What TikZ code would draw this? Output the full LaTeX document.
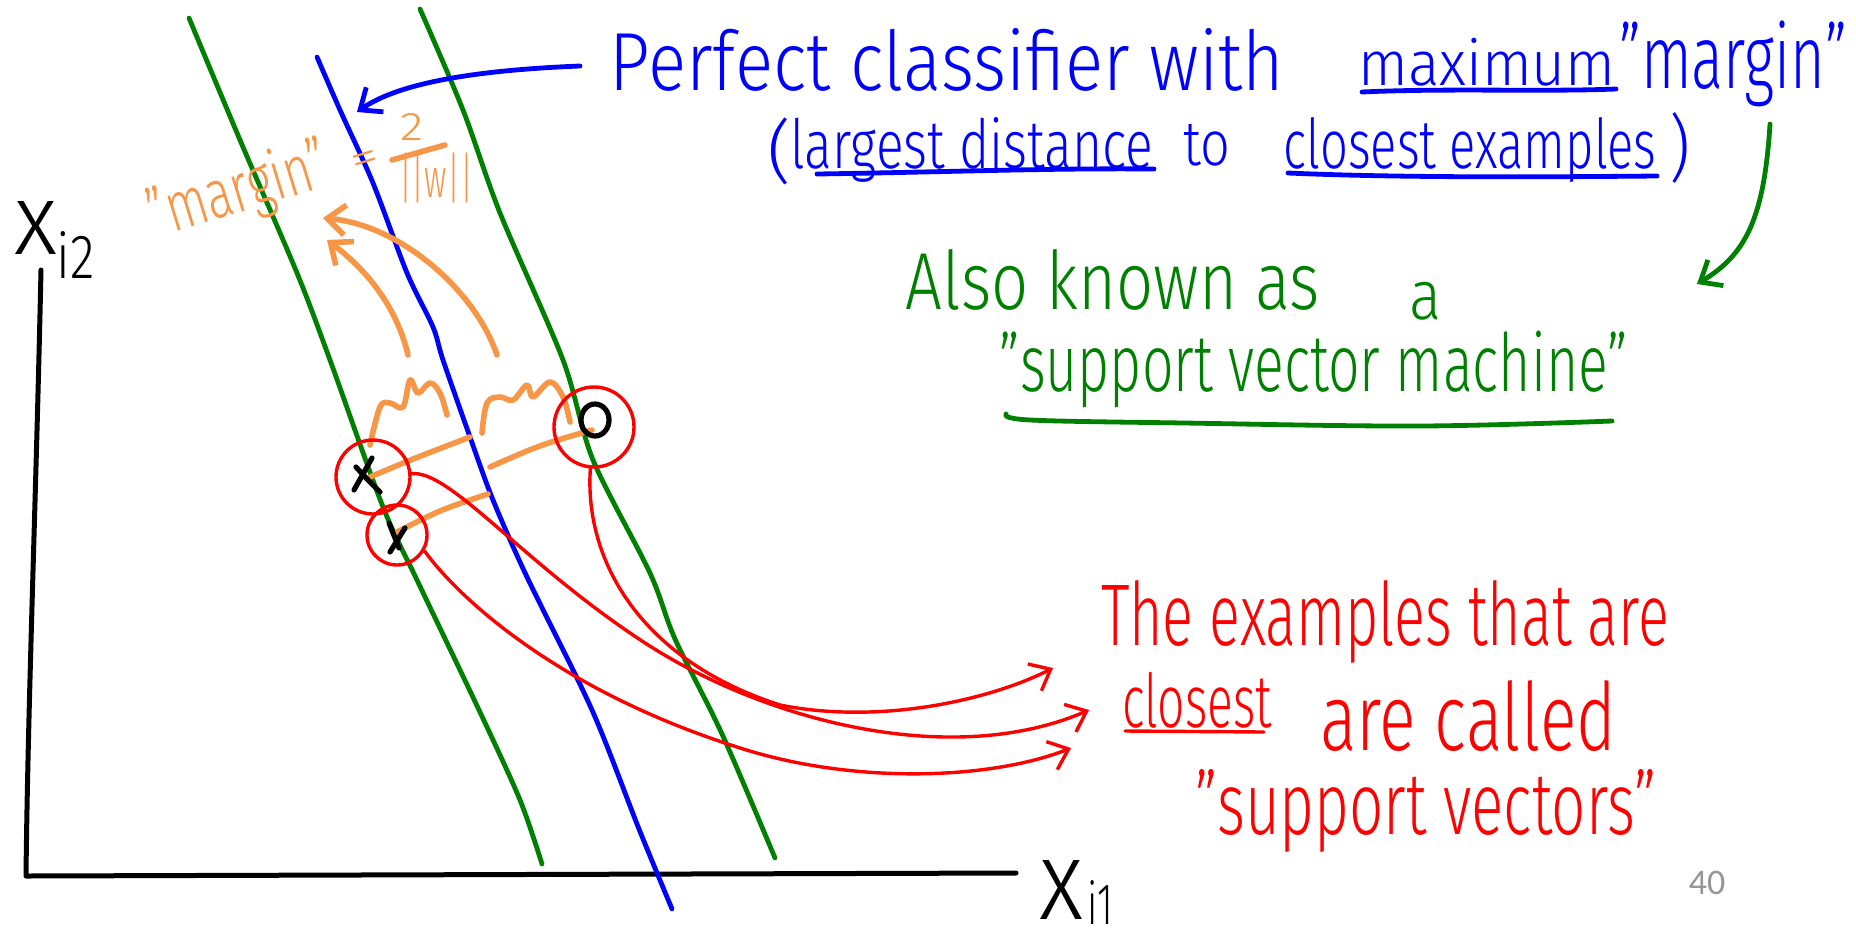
\documentclass[tikz,border=0pt]{standalone}
\usepackage{fontspec}
\setmainfont{Fira Sans Light}
\newfontfamily\pagefont{Carlito}
\usetikzlibrary{arrows.meta}
\definecolor{svmblue}{RGB}{0,0,255}
\definecolor{svmgreen}{RGB}{0,128,0}
\definecolor{svmred}{RGB}{255,0,0}
\definecolor{svmorange}{RGB}{247,150,70}
\definecolor{pagegray}{RGB}{150,150,150}
\newcommand{\hwbox}[3]{\resizebox*{#1}{#2}{#3}}
\begin{document}
\begin{tikzpicture}[x=0.5pt,y=-0.5pt,
  ink/.style={line cap=round,line join=round},
  axisline/.style={ink,draw=black,line width=2.5pt},
  gline/.style={ink,draw=svmgreen,line width=2.4pt},
  bline/.style={ink,draw=svmblue,line width=2.4pt},
  rline/.style={ink,draw=svmred,line width=1.7pt},
  oline/.style={ink,draw=svmorange,line width=2.8pt},
  kline/.style={ink,draw=black,line width=2.6pt},
  barb/.style={-{Straight Barb[length=9pt,width=15pt]}},
  txt/.style={inner sep=0pt,outer sep=0pt,anchor=center},
  btxt/.style={txt,text=svmblue},
  gtxt/.style={txt,text=svmgreen},
  rtxt/.style={txt,text=svmred},
  otxt/.style={txt,text=svmorange},
  ktxt/.style={txt,text=black},
  ring/.style={circle,draw=svmred,line width=1.7pt,inner sep=0pt},
]
\useasboundingbox (0,0) rectangle (1856,932);
\fill[white] (0,0) rectangle (1856,932);

% axes
\coordinate (ytop) at (41,270);
\coordinate (origin) at (26,876);
\coordinate (xend) at (1016,873);
\draw[axisline] (ytop) .. controls (36,500) and (28,700) .. (origin) -- (xend);
\node[ktxt] (xlab2) at (35.5,227.5) {\hwbox{21.5pt}{26.5pt}{x}};
\node[ktxt] (xlab2s) at (76,254.5) {\hwbox{19pt}{23.5pt}{i2}};
\node[ktxt] (xlab1) at (1061,890) {\hwbox{22pt}{29.5pt}{x}};
\node[ktxt] (xlab1s) at (1100,902) {\hwbox{13pt}{22pt}{i1}};

% green margin lines
\draw[gline] plot[smooth,tension=0.5] coordinates {(189,18) (240,140) (297,273) (330,360) (383,507) (417,580) (479,710) (520,800) (542,864)};
\draw[gline] plot[smooth,tension=0.5] coordinates {(420,9) (463,110) (500,213) (563,360) (593,460) (650,573) (675,639) (722,734) (775,858)};
% blue classifier
\draw[bline] plot[smooth,tension=0.5] coordinates {(317,57) (340,110) (373,183) (407,273) (433,327) (443,360) (470,437) (493,500) (527,577) (592,710) (639,829) (672,909)};

% blue text
\node[btxt] (perfect) at (947,59.5) {\hwbox{337pt}{31.5pt}{Perfect classifier with}};
\node[btxt] (maximum) at (1487,62) {\hwbox{128.5pt}{24pt}{maximum}};
\node[btxt] (marginq) at (1733,64) {\hwbox{114pt}{43pt}{"margin"}};
\draw[bline] (1362,92) .. controls (1450,88) and (1540,92) .. (1616,89);
\node[btxt] (lparen) at (779,151) {\hwbox{12pt}{33.5pt}{(}};
\node[btxt] (largest) at (972,150) {\hwbox{181.5pt}{32.5pt}{largest distance}};
\node[btxt] (to) at (1207,145) {\hwbox{23.5pt}{21pt}{to}};
\node[btxt] (closestex) at (1470,150) {\hwbox{186.5pt}{32.5pt}{closest examples}};
\node[btxt] (rparen) at (1680,148) {\hwbox{10.5pt}{35.5pt}{)}};
\draw[bline] (817,174) .. controls (950,172) and (1050,168) .. (1154,169);
\draw[bline] (1288,173) .. controls (1400,178) and (1550,177) .. (1657,176);

% blue arrow
\coordinate (bstart) at (580,66);
\coordinate (btip) at (357,112);
\draw[bline,barb] (bstart) .. controls (480,70) and (400,82) .. (btip);

% green text
\node[gtxt] (also) at (1113,279.5) {\hwbox{207pt}{30.5pt}{Also known as}};
\node[gtxt] (aword) at (1425,301) {\hwbox{16pt}{19pt}{a}};
\node[gtxt] (svm) at (1314,369.5) {\hwbox{314pt}{38.5pt}{"support vector machine"}};
\draw[gline] plot[smooth,tension=0.6] coordinates {(1006,414) (1030,420) (1184,423) (1420,426) (1612,421)};
\coordinate (gstart) at (1770,124);
\coordinate (gtip) at (1697,284);
\draw[gline,barb] (gstart) .. controls (1764,220) and (1745,255) .. (gtip);

% red text
\node[rtxt] (theex) at (1385,621.5) {\hwbox{284pt}{41.5pt}{The examples that are}};
\node[rtxt] (closest) at (1197,700) {\hwbox{75pt}{28pt}{closest}};
\node[rtxt] (arecalled) at (1468,716.5) {\hwbox{148pt}{35.5pt}{are called}};
\node[rtxt] (sv) at (1426,810.5) {\hwbox{230.5pt}{41.5pt}{"support vectors"}};
\draw[rline] (1125,731) -- (1264,732);

% orange margin annotation
\node[otxt,rotate=17,anchor=base west] (margintxt) at (156,238) {\hwbox{93pt}{33pt}{"margin"}};
\node[otxt,rotate=17] (eq) at (366,163) {\hwbox{14pt}{10pt}{=}};
\node[otxt] (two) at (412,127) {\hwbox{11.5pt}{13.5pt}{2}};
\draw[oline] (392,160) -- (445,145);
\node[otxt] (normw) at (436,178) {\hwbox{37pt}{25pt}{||w||}};

% braces
\draw[oline] plot[smooth,tension=0.6] coordinates {(370,445) (380,407) (390,403) (403,407) (410,380) (418,393) (430,383) (440,393) (447,415)};
\draw[oline] plot[smooth,tension=0.6] coordinates {(482,433) (487,403) (500,397) (513,400) (527,385) (533,397) (550,382) (563,397) (570,422)};
\coordinate (oa) at (497,355);
\coordinate (oatip) at (323,218);
\coordinate (ob) at (408,355);
\coordinate (obtip) at (327,240);
\draw[oline,barb] (oa) .. controls (475,290) and (400,225) .. (oatip);
\draw[oline,barb] (ob) .. controls (395,300) and (360,265) .. (obtip);

% distances
\draw[oline] (370,477) .. controls (410,460) .. (470,437);
\draw[oline] (490,467) .. controls (540,445) .. (592,430);
\draw[oline] (395,533) .. controls (440,510) .. (488,494);

% points
\draw[kline] (372,458) -- (354,490);
\draw[kline] (356,467) .. controls (366,478) .. (380,492);
\draw[kline] (405,528) -- (390,552);
\draw[kline] (389,523) -- (399,548);
\draw[kline] (595,420) ellipse [x radius=7pt, y radius=8pt];

% circles
\node[ring,minimum size=37pt] (c1) at (373,477) {};
\node[ring,minimum size=30pt] (c2) at (397,535) {};
\node[ring,minimum size=40pt] (c3) at (594,427) {};

% red arrows
\coordinate (r1tip) at (1053,668);
\coordinate (r2tip) at (1089,710);
\coordinate (r3tip) at (1071,748);
\draw[rline,barb] (c3.265) .. controls (584,560) and (640,660) .. (780,705) .. controls (880,725) and (990,700) .. (r1tip);
\draw[rline,barb] (c1.5) .. controls (450,470) and (520,560) .. (639,639) .. controls (760,720) and (950,770) .. (r2tip);
\draw[rline,barb] (c2.-30) .. controls (460,600) and (560,690) .. (734,746) .. controls (850,785) and (990,780) .. (r3tip);

% page number
\node[txt,text=pagegray] (pagenum) at (1707,883) {\pagefont\fontsize{18pt}{18pt}\selectfont 40};
\end{tikzpicture}
\end{document}
